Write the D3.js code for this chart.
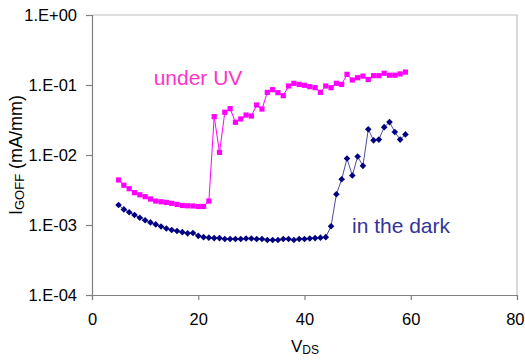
<!DOCTYPE html>
<html>
<head>
<meta charset="utf-8">
<script src="https://cdn.jsdelivr.net/npm/d3@7"></script>
<style>
  body { margin: 0; background: #fff; }
  svg { display: block; font-family: "Liberation Sans", Arial, sans-serif; }
</style>
</head>
<body>
<div id="chart"></div>
<script>
// drain voltage steps (V)
const vds = [5, 6, 7, 8, 9, 10, 11, 12, 13, 14, 15, 16, 17, 18, 19, 20, 21, 22, 23, 24,
  25, 26, 27, 28, 29, 30, 31, 32, 33, 34, 35, 36, 37, 38, 39, 40, 41, 42, 43, 44,
  45, 46, 47, 48, 49, 50, 51, 52, 53, 54, 55, 56, 57, 58, 59];

// IGOFF under UV (mA/mm)
const underUV = [4.4e-3, 3.7e-3, 3.3e-3, 2.9e-3, 2.7e-3, 2.54e-3, 2.35e-3, 2.2e-3, 2.15e-3, 2.1e-3,
  2.04e-3, 1.97e-3, 1.9e-3, 1.88e-3, 1.87e-3, 1.84e-3, 1.84e-3, 2.2e-3, 0.0353, 0.0109,
  0.0408, 0.0459, 0.0293, 0.0327, 0.0372, 0.036, 0.0518, 0.0454, 0.0785, 0.0857,
  0.0777, 0.0704, 0.0968, 0.1057, 0.102, 0.099, 0.0946, 0.0916, 0.0785, 0.0968,
  0.0916, 0.1057, 0.102, 0.142, 0.118, 0.127, 0.134, 0.12, 0.136, 0.136,
  0.147, 0.138, 0.138, 0.144, 0.153];

// IGOFF in the dark (mA/mm)
const inDark = [1.93e-3, 1.67e-3, 1.52e-3, 1.39e-3, 1.27e-3, 1.17e-3, 1.09e-3, 1.02e-3, 9.5e-4, 8.9e-4,
  8.5e-4, 8.2e-4, 7.9e-4, 7.6e-4, 7.7e-4, 7.0e-4, 6.7e-4, 6.6e-4, 6.5e-4, 6.5e-4,
  6.3e-4, 6.3e-4, 6.3e-4, 6.3e-4, 6.4e-4, 6.4e-4, 6.3e-4, 6.3e-4, 6.1e-4, 6.1e-4,
  6.1e-4, 6.3e-4, 6.3e-4, 6.1e-4, 6.3e-4, 6.3e-4, 6.4e-4, 6.5e-4, 6.6e-4, 6.7e-4,
  9.6e-4, 2.75e-3, 4.5e-3, 8.9e-3, 5.1e-3, 9.5e-3, 7.0e-3, 0.0233, 0.0162, 0.0166,
  0.025, 0.0295, 0.0213, 0.0166, 0.0197];

const xTicks = [0, 20, 40, 60, 80];
const yTicks = [1e-4, 1e-3, 1e-2, 1e-1, 1];

const width = 525;
const height = 362;
const margin = { top: 15, right: 8, bottom: 67, left: 92 };

const svg = d3.select("#chart")
  .append("svg")
  .attr("width", width)
  .attr("height", height);

const x = d3.scaleLinear().domain([0, 80]).range([margin.left, width - margin.right]);
const y = d3.scaleLog().domain([1e-4, 1]).range([height - margin.bottom, margin.top]);

// plot area frame (light grey top / right)
svg.append("path")
  .attr("d", `M${x(0)},${y(1)}H${x(80)}V${y(1e-4)}`)
  .attr("fill", "none")
  .attr("stroke", "#c0c0c0")
  .attr("stroke-width", 1.2);

const fmtExp = d => {
  const e = Math.round(Math.log10(d));
  return "1.E" + (e >= 0 ? "+" : "-") + String(Math.abs(e)).padStart(2, "0");
};

const xAxis = svg.append("g")
  .attr("transform", `translate(0,${y(1e-4)})`)
  .call(d3.axisBottom(x).tickValues(xTicks).tickSize(5).tickPadding(13).tickFormat(d3.format("d")));

const yAxis = svg.append("g")
  .attr("transform", `translate(${x(0)},0)`)
  .call(d3.axisLeft(y).tickValues(yTicks).tickSize(6).tickPadding(9).tickFormat(fmtExp));

[xAxis, yAxis].forEach(a => {
  a.select(".domain").attr("stroke", "#808080").attr("stroke-width", 1.2);
  a.selectAll(".tick line").attr("stroke", "#808080").attr("stroke-width", 1.2);
  a.selectAll(".tick text")
    .attr("fill", "#000")
    .style("font-size", "16.5px")
    .style("font-family", "'Liberation Sans', Arial, sans-serif");
});
// keep the last label inside the page
xAxis.selectAll(".tick text")
  .filter(d => d === 80)
  .attr("text-anchor", "end")
  .attr("dx", 7);

const line = d3.line()
  .x((d, i) => x(vds[i]))
  .y(d => y(d));

// under UV series
svg.append("path")
  .datum(underUV)
  .attr("fill", "none")
  .attr("stroke", "#ff00ff")
  .attr("stroke-width", 1)
  .attr("d", line);

svg.append("g")
  .selectAll("rect")
  .data(underUV)
  .join("rect")
  .attr("x", (d, i) => x(vds[i]) - 2.6)
  .attr("y", d => y(d) - 2.6)
  .attr("width", 5.2)
  .attr("height", 5.2)
  .attr("fill", "#ff00ff");

// in the dark series
svg.append("path")
  .datum(inDark)
  .attr("fill", "none")
  .attr("stroke", "#4d4d99")
  .attr("stroke-width", 1)
  .attr("d", line);

svg.append("g")
  .selectAll("path")
  .data(inDark)
  .join("path")
  .attr("transform", (d, i) => `translate(${x(vds[i])},${y(d)})`)
  .attr("d", "M0,-3.3L3.3,0L0,3.3L-3.3,0Z")
  .attr("fill", "#000080");

// series labels
svg.append("text")
  .attr("x", 198)
  .attr("y", 85)
  .attr("text-anchor", "middle")
  .attr("fill", "#ff33cc")
  .style("font-size", "21px")
  .text("under UV");

svg.append("text")
  .attr("x", 401)
  .attr("y", 233)
  .attr("text-anchor", "middle")
  .attr("fill", "#333399")
  .style("font-size", "21px")
  .text("in the dark");

// axis titles
const xTitle = svg.append("text")
  .attr("x", 305)
  .attr("y", 352)
  .attr("text-anchor", "middle")
  .attr("fill", "#000")
  .style("font-size", "17px");
xTitle.append("tspan").text("V");
xTitle.append("tspan").attr("dy", 2).style("font-size", "12px").text("DS");

const yTitle = svg.append("text")
  .attr("transform", `translate(22,${(y(1) + y(1e-4)) / 2}) rotate(-90)`)
  .attr("text-anchor", "middle")
  .attr("fill", "#000")
  .style("font-size", "18px");
yTitle.append("tspan").text("I");
yTitle.append("tspan").attr("dy", 2).style("font-size", "13px").text("GOFF");
yTitle.append("tspan").attr("dy", -2).text(" (mA/mm)");
</script>
</body>
</html>
